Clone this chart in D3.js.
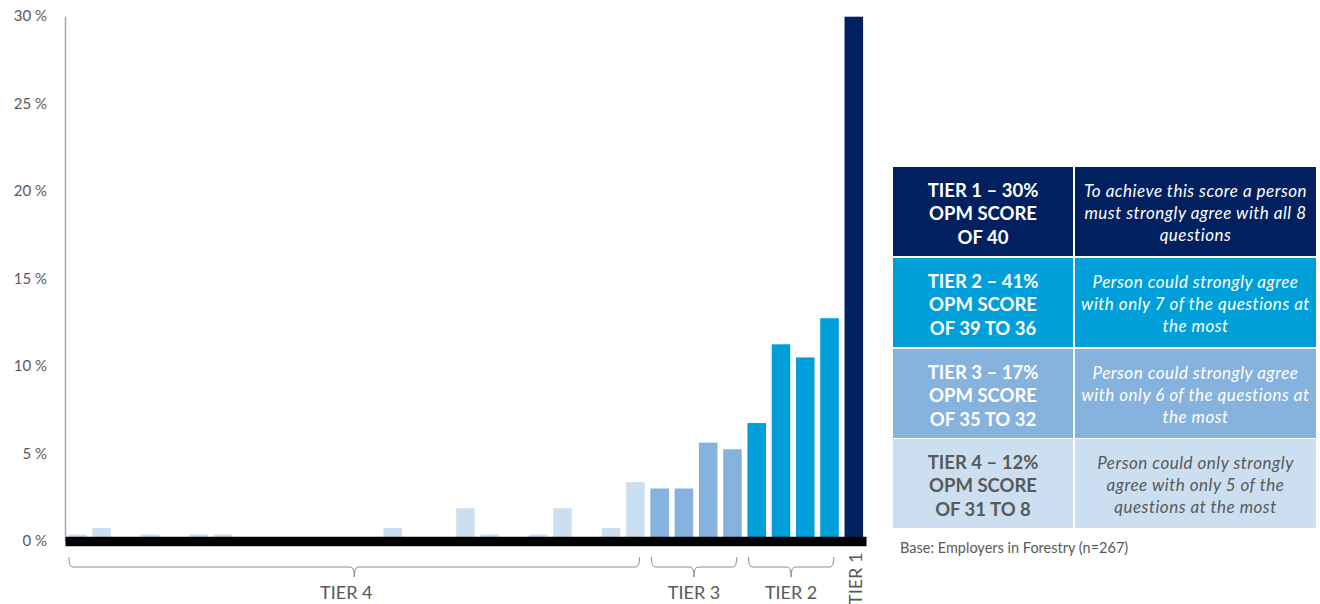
<!DOCTYPE html>
<html>
<head>
<meta charset="utf-8">
<script src="https://cdn.jsdelivr.net/npm/d3@7"></script>
<style>
  html, body { margin: 0; padding: 0; background: #fff; }
  svg { display: block; font-family: Lato, "Open Sans", sans-serif; }
</style>
</head>
<body>
<svg id="chart" width="1320" height="604"></svg>
<script>
// ---- data ----
const scores = d3.range(8, 41); // OPM scores 8..40
const values = [0.37, 0.75, 0, 0.37, 0, 0.37, 0.37, 0, 0, 0, 0, 0, 0, 0.75, 0, 0, 1.87, 0.37, 0, 0.37, 1.87, 0, 0.75, 3.37,
                3.0, 3.0, 5.62, 5.24,
                6.74, 11.24, 10.49, 12.73,
                29.96];
const tierNames = ["TIER 1", "TIER 2", "TIER 3", "TIER 4"];
const tierMin = [40, 36, 32, 8];
const tierMax = [40, 39, 35, 31];
const tierColors = ["#002060", "#009FDA", "#86B2DE", "#CCDFF0"];
const yTicks = [0, 5, 10, 15, 20, 25, 30];
const tableTitles = [
  ["TIER 1 \u2013 30%", "OPM SCORE", "OF 40"],
  ["TIER 2 \u2013 41%", "OPM SCORE", "OF 39 TO 36"],
  ["TIER 3 \u2013 17%", "OPM SCORE", "OF 35 TO 32"],
  ["TIER 4 \u2013 12%", "OPM SCORE", "OF 31 TO 8"]
];
const tableDescs = [
  ["To achieve this score a person", "must strongly agree with all 8", "questions"],
  ["Person could strongly agree", "with only 7 of the questions at", "the most"],
  ["Person could strongly agree", "with only 6 of the questions at", "the most"],
  ["Person could only strongly", "agree with only 5 of the", "questions at the most"]
];
const tableTextColors = ["#ffffff", "#ffffff", "#ffffff", "#595959"];
const baseNote = "Base: Employers in Forestry (n=267)";

// ---- helpers ----
const tierOf = s => tierMin.findIndex((m, i) => s >= m && s <= tierMax[i]);

const svg = d3.select("#chart");

const x = d3.scaleBand().domain(scores).range([65, 866]).paddingInner(0.235).paddingOuter(0.12);
const y = d3.scaleLinear().domain([0, 30]).range([541, 16]);

// y axis
const yAxis = svg.append("g").attr("transform", "translate(65,0)")
  .call(d3.axisLeft(y).tickValues(yTicks).tickFormat(d => d + " %").tickSize(0).tickPadding(18));
yAxis.select(".domain").attr("stroke", "#A6A6A6").attr("stroke-width", 1.5);
yAxis.selectAll("text").attr("fill", "#595959").style("font-size", "15px").style("font-family", "Lato, sans-serif");

// bars
svg.append("g").selectAll("rect").data(scores).join("rect")
  .attr("x", s => x(s))
  .attr("width", x.bandwidth())
  .attr("y", (s, i) => y(values[i]))
  .attr("height", (s, i) => y(0) - y(values[i]))
  .attr("fill", s => tierColors[tierOf(s)]);

// x axis (thick black baseline)
const xAxis = svg.append("g").attr("transform", `translate(0,${y(0)})`)
  .call(d3.axisBottom(x).tickSize(0).tickFormat(""));
xAxis.select(".domain").attr("stroke", "#000").attr("stroke-width", 9.5);

// brackets and tier labels
const bw = x.bandwidth();
[3, 2, 1].forEach(t => {
  const x0 = x(tierMin[t]) + 1;
  const x1 = x(tierMax[t]) + bw - 5;
  const m = (x0 + x1) / 2;
  const yt = 557, yh = 567, yb = 577;
  const p = `M${x0},${yt} Q${x0},${yh} ${x0 + 4},${yh} H${m - 4} Q${m},${yh} ${m},${yb} Q${m},${yh} ${m + 4},${yh} H${x1 - 4} Q${x1},${yh} ${x1},${yt}`;
  svg.append("path").attr("d", p).attr("fill", "none").attr("stroke", "#8C8C8C").attr("stroke-width", 1);
  svg.append("text").attr("x", m - (t === 3 ? 8 : 0)).attr("y", 599).attr("text-anchor", "middle")
    .attr("fill", "#595959").style("font-size", "18px").text(tierNames[t]);
});
// tier 1 rotated label
svg.append("text")
  .attr("transform", `translate(${x(40) + bw / 2 + 2},605) rotate(-90)`)
  .attr("x", 0).attr("y", 6)
  .attr("text-anchor", "start")
  .attr("fill", "#595959").style("font-size", "18px").text(tierNames[0]);

// table
const tx0 = 893, tx1 = 1073, tx2 = 1075, tx3 = 1316;
const rowTop = [167, 258, 349, 439];
const rowH = 89;
tableTitles.forEach((lines, r) => {
  const g = svg.append("g");
  g.append("rect").attr("x", tx0).attr("y", rowTop[r]).attr("width", tx1 - tx0).attr("height", rowH).attr("fill", tierColors[r]);
  g.append("rect").attr("x", tx2).attr("y", rowTop[r]).attr("width", tx3 - tx2).attr("height", rowH).attr("fill", tierColors[r]);
  const cy = rowTop[r] + rowH / 2;
  const t1 = g.append("text").attr("text-anchor", "middle").attr("fill", tableTextColors[r])
    .style("font-size", "18.5px").style("font-weight", "bold");
  lines.forEach((l, i) => t1.append("tspan").attr("x", (tx0 + tx1) / 2).attr("y", cy + 2 + (i - 1) * 23.5 + 6.5).text(l));
  const t2 = g.append("text").attr("text-anchor", "middle").attr("fill", tableTextColors[r])
    .style("font-size", "17px").style("font-style", "italic").style("letter-spacing", "0.5px");
  tableDescs[r].forEach((l, i) => t2.append("tspan").attr("x", (tx2 + tx3) / 2).attr("y", cy + 1 + (i - 1) * 22 + 6).text(l));
});
svg.append("text").attr("x", 900).attr("y", 553).attr("fill", "#595959").style("font-size", "14.5px").text(baseNote);
</script>
</body>
</html>
